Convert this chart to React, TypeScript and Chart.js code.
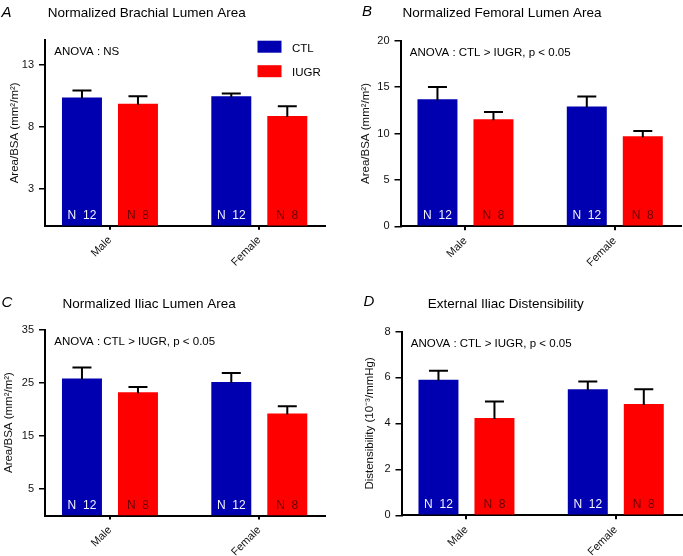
import React, { useEffect, useRef } from 'react';
import { Chart, registerables } from 'chart.js';

Chart.register(...registerables);
Chart.defaults.font.family = '"Liberation Sans", Arial, Helvetica, sans-serif';

// ---------- data ----------
const categories = ['Male', 'Female'];
const seriesNames = ['CTL', 'IUGR'];
const nLabels = ['N  12', 'N  8'];

const brachialCtl = [10.36, 10.45];
const brachialCtlErr = [0.57, 0.22];
const brachialIugr = [9.85, 8.86];
const brachialIugrErr = [0.6, 0.78];
const brachialTicks = [3, 8, 13];

const femoralCtl = [13.69, 12.9];
const femoralCtlErr = [1.32, 1.1];
const femoralIugr = [11.54, 9.71];
const femoralIugrErr = [0.78, 0.55];
const femoralTicks = [0, 5, 10, 15, 20];

const iliacCtl = [25.78, 25.14];
const iliacCtlErr = [2.06, 1.69];
const iliacIugr = [23.2, 19.2];
const iliacIugrErr = [1.0, 1.38];
const iliacTicks = [5, 15, 25, 35];

const distCtl = [5.9, 5.49];
const distCtlErr = [0.39, 0.33];
const distIugr = [4.23, 4.84];
const distIugrErr = [0.72, 0.65];
const distTicks = [0, 2, 4, 6, 8];

// ---------- styling ----------
const BLUE = '#0000B0';
const RED = '#FF0000';
const barColors = [BLUE, RED];
const nColors = ['#f2f2ff', '#6a0000'];

type Panel = {
  letter: string;
  title: string;
  anova: string;
  yTitle: string;
  ctl: number[];
  ctlErr: number[];
  iugr: number[];
  iugrErr: number[];
  yMax: number;
  yTicks: number[];
  legend: boolean;
  pos: { left: number; top: number };
  area: { left: number; right: number; top: number; bottom: number };
  yTitleX: number;
  letterPos: [number, number];
  titlePos: [number, number];
};

const W = 341;
const H = 278;

const panels: Panel[] = [
  {
    letter: 'A', title: 'Normalized Brachial Lumen Area', anova: 'ANOVA : NS',
    yTitle: 'Area/BSA (mm²/m²)', ctl: brachialCtl, ctlErr: brachialCtlErr,
    iugr: brachialIugr, iugrErr: brachialIugrErr, yMax: 15, yTicks: brachialTicks, legend: true,
    pos: { left: 0, top: 0 }, area: { left: 45, right: 325, top: 40, bottom: 225.7 },
    yTitleX: 15.3, letterPos: [1.5, 17], titlePos: [146.7, 17.3],
  },
  {
    letter: 'B', title: 'Normalized Femoral Lumen Area', anova: 'ANOVA : CTL > IUGR, p < 0.05',
    yTitle: 'Area/BSA (mm²/m²)', ctl: femoralCtl, ctlErr: femoralCtlErr,
    iugr: femoralIugr, iugrErr: femoralIugrErr, yMax: 20, yTicks: femoralTicks, legend: false,
    pos: { left: 342, top: 0 }, area: { left: 58.5, right: 338.5, top: 40.7, bottom: 226.3 },
    yTitleX: 24.3, letterPos: [20, 15.5], titlePos: [160, 17.3],
  },
  {
    letter: 'C', title: 'Normalized Iliac Lumen Area', anova: 'ANOVA : CTL > IUGR, p < 0.05',
    yTitle: 'Area/BSA (mm²/m²)', ctl: iliacCtl, ctlErr: iliacCtlErr,
    iugr: iliacIugr, iugrErr: iliacIugrErr, yMax: 35, yTicks: iliacTicks, legend: false,
    pos: { left: 0, top: 278 }, area: { left: 45, right: 325, top: 51.5, bottom: 237.6 },
    yTitleX: 9.3, letterPos: [1.5, 28.5], titlePos: [149.2, 30.3],
  },
  {
    letter: 'D', title: 'External Iliac Distensibility', anova: 'ANOVA : CTL > IUGR, p < 0.05',
    yTitle: 'Distensibility (10⁻³/mmHg)', ctl: distCtl, ctlErr: distCtlErr,
    iugr: distIugr, iugrErr: distIugrErr, yMax: 8, yTicks: distTicks, legend: false,
    pos: { left: 342, top: 278 }, area: { left: 59.5, right: 339.5, top: 53.5, bottom: 237.3 },
    yTitleX: 28.3, letterPos: [21.5, 28], titlePos: [163.7, 30.3],
  },
];

const X_MIN = -0.435;
const X_MAX = 1.44;
const Y_TITLE_SIZE = 11.5;

function PanelChart({ p }: { p: Panel }) {
  const ref = useRef<HTMLCanvasElement | null>(null);

  useEffect(() => {
    if (!ref.current) return;
    const padLeft = 2;
    const padBottom = 0.5;
    const yWidth = p.area.left - padLeft;
    const xHeight = H - p.area.bottom - padBottom;
    const titlePad = p.yTitleX - padLeft - (Y_TITLE_SIZE * 1.2) / 2;
    const errs = [p.ctlErr, p.iugrErr];
    const vals = [p.ctl, p.iugr];

    const decor = {
      id: 'decor',
      afterDatasetsDraw(chart: any) {
        const ctx = chart.ctx;
        const yScale = chart.scales.y;
        ctx.save();
        for (let d = 0; d < 2; d++) {
          const meta = chart.getDatasetMeta(d);
          meta.data.forEach((bar: any, j: number) => {
            const top = yScale.getPixelForValue(vals[d][j] + errs[d][j]);
            ctx.strokeStyle = '#000';
            ctx.lineWidth = 2;
            ctx.beginPath();
            ctx.moveTo(bar.x, bar.y + 1);
            ctx.lineTo(bar.x, top);
            ctx.moveTo(bar.x - 9.5, top);
            ctx.lineTo(bar.x + 9.5, top);
            ctx.stroke();
            ctx.fillStyle = nColors[d];
            ctx.font = '12px "Liberation Sans", Arial, sans-serif';
            ctx.textAlign = 'center';
            ctx.textBaseline = 'alphabetic';
            ctx.fillText(nLabels[d], bar.x, bar.base - 6.4);
          });
        }
        ctx.restore();
      },
      afterDraw(chart: any) {
        const ctx = chart.ctx;
        const area = chart.chartArea;
        ctx.save();
        ctx.textBaseline = 'alphabetic';
        ctx.fillStyle = '#000';
        ctx.textAlign = 'left';
        ctx.font = 'italic 15px "Liberation Sans", Arial, sans-serif';
        ctx.fillText(p.letter, p.letterPos[0], p.letterPos[1]);
        ctx.textAlign = 'center';
        ctx.font = '13.5px "Liberation Sans", Arial, sans-serif';
        ctx.fillText(p.title, p.titlePos[0], p.titlePos[1]);
        ctx.textAlign = 'left';
        ctx.font = '11.5px "Liberation Sans", Arial, sans-serif';
        ctx.fillText(p.anova, area.left + 9.3, area.top + 15.4);
        if (p.legend) {
          for (let d = 0; d < 2; d++) {
            const y = area.top + 0.7 + d * 24.5;
            ctx.fillStyle = barColors[d];
            ctx.fillRect(257.5, y, 24, 12);
            ctx.fillStyle = '#000';
            ctx.fillText(seriesNames[d], 292, y + 11);
          }
        }
        ctx.restore();
      },
    };

    const chart = new Chart(ref.current, {
      type: 'bar',
      data: {
        datasets: [0, 1].map((d) => ({
          label: seriesNames[d],
          data: categories.map((_, i) => ({ x: i, y: vals[d][i] })),
          backgroundColor: barColors[d],
          borderWidth: 0,
          categoryPercentage: 0.75,
          barPercentage: 0.714,
        })),
      },
      options: {
        responsive: false,
        animation: false,
        devicePixelRatio: 1,
        layout: {
          padding: {
            left: padLeft,
            top: p.area.top,
            right: W - p.area.right,
            bottom: padBottom,
          },
        },
        plugins: {
          legend: { display: false },
          tooltip: { enabled: false },
          title: { display: false },
        },
        scales: {
          x: {
            type: 'linear',
            min: X_MIN,
            max: X_MAX,
            offset: false,
            afterBuildTicks: (s: any) => {
              s.ticks = categories.map((_, i) => ({ value: i }));
            },
            afterFit: (s: any) => {
              s.height = xHeight;
            },
            ticks: {
              autoSkip: false,
              minRotation: 45,
              maxRotation: 45,
              padding: 4,
              color: '#111',
              font: { size: 11 },
              callback: (v: any) => categories[v] ?? '',
            },
            grid: {
              display: true,
              offset: false,
              drawOnChartArea: false,
              drawTicks: true,
              tickLength: 4,
              color: '#000',
              lineWidth: 2,
            },
            border: { display: true, color: '#000', width: 2 },
          },
          y: {
            type: 'linear',
            min: 0,
            max: p.yMax,
            afterBuildTicks: (s: any) => {
              s.ticks = p.yTicks.map((v) => ({ value: v }));
            },
            afterFit: (s: any) => {
              s.width = yWidth;
            },
            ticks: { color: '#111', font: { size: 11 }, padding: 5 },
            grid: {
              display: true,
              drawOnChartArea: false,
              drawTicks: true,
              tickLength: 6,
              color: '#000',
              lineWidth: 1.5,
            },
            border: { display: true, color: '#000', width: 2 },
            title: {
              display: true,
              text: p.yTitle,
              color: '#111',
              font: { size: Y_TITLE_SIZE },
              padding: { top: titlePad, bottom: 0 },
            },
          },
        },
      } as any,
      plugins: [decor],
    });
    return () => chart.destroy();
  }, [p]);

  return (
    <canvas
      ref={ref}
      width={W}
      height={H}
      style={{ position: 'absolute', left: p.pos.left, top: p.pos.top, width: W, height: H }}
    />
  );
}

export default function App() {
  return (
    <div style={{ position: 'absolute', left: 0, top: 0, width: 683, height: 556, background: '#fff' }}>
      {panels.map((p) => (
        <PanelChart key={p.letter} p={p} />
      ))}
    </div>
  );
}
